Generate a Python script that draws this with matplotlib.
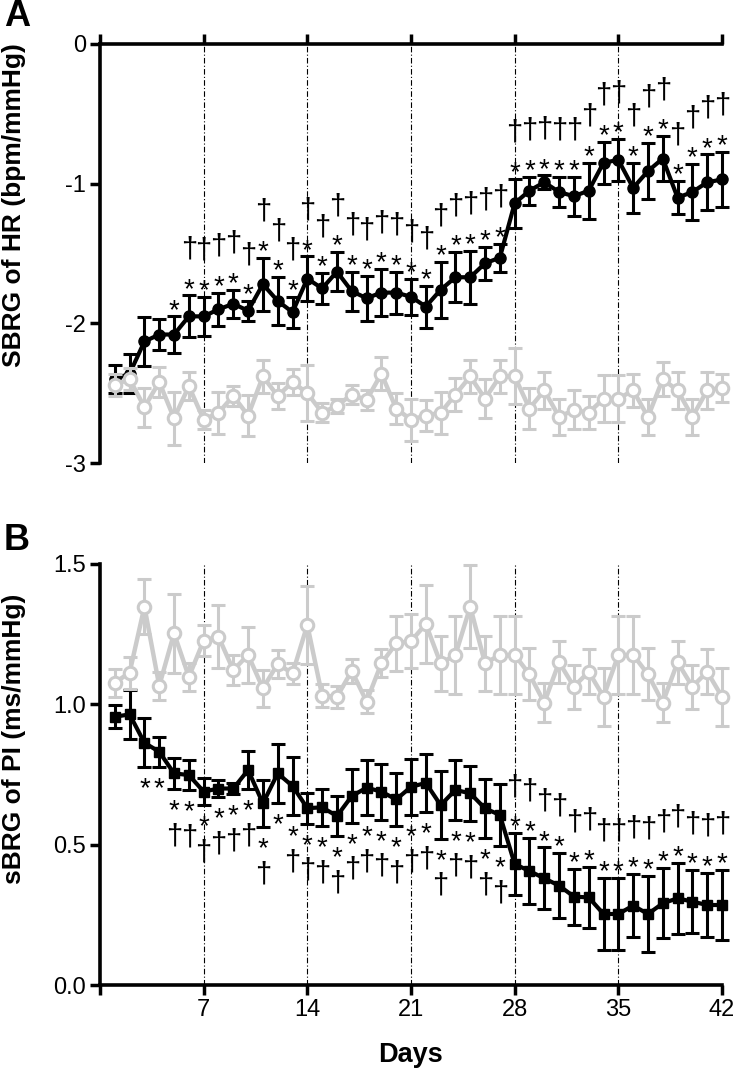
import matplotlib
matplotlib.use("Agg")
import matplotlib.pyplot as plt

plt.rcParams['font.family'] = ['Liberation Sans', 'DejaVu Sans']
plt.rcParams['axes.unicode_minus'] = False

days = list(range(1, 43))

# Panel A: SBRG of HR
hr_black = [-2.40, -2.36, -2.13, -2.08, -2.08, -1.95, -1.95, -1.90, -1.86, -1.91,
            -1.72, -1.84, -1.92, -1.68, -1.75, -1.63, -1.77, -1.82, -1.78, -1.78,
            -1.81, -1.88, -1.76, -1.67, -1.67, -1.57, -1.53, -1.14, -1.05, -0.99,
            -1.06, -1.09, -1.05, -0.85, -0.83, -1.03, -0.91, -0.82, -1.10, -1.06,
            -0.99, -0.97]
hr_black_err = [0.10, 0.14, 0.175, 0.11, 0.13, 0.15, 0.14, 0.12, 0.10, 0.07,
                0.19, 0.17, 0.11, 0.16, 0.11, 0.14, 0.14, 0.16, 0.17, 0.15,
                0.13, 0.15, 0.20, 0.18, 0.19, 0.12, 0.10, 0.175, 0.10, 0.05,
                0.11, 0.14, 0.20, 0.15, 0.15, 0.18, 0.20, 0.16, 0.12, 0.20,
                0.20, 0.20]
hr_gray = [-2.44, -2.40, -2.60, -2.42, -2.68, -2.45, -2.69, -2.64, -2.52, -2.66,
           -2.38, -2.52, -2.42, -2.50, -2.64, -2.59, -2.51, -2.55, -2.36, -2.61,
           -2.69, -2.66, -2.64, -2.51, -2.38, -2.54, -2.38, -2.38, -2.61, -2.48,
           -2.67, -2.62, -2.64, -2.54, -2.54, -2.48, -2.67, -2.40, -2.48, -2.67,
           -2.48, -2.46]
hr_gray_err = [0.08, 0.08, 0.14, 0.11, 0.19, 0.10, 0.07, 0.15, 0.07, 0.15,
               0.12, 0.09, 0.09, 0.20, 0.07, 0.05, 0.07, 0.07, 0.12, 0.11,
               0.15, 0.11, 0.15, 0.12, 0.12, 0.14, 0.12, 0.20, 0.15, 0.13,
               0.13, 0.14, 0.12, 0.17, 0.17, 0.12, 0.13, 0.12, 0.13, 0.13,
               0.13, 0.10]

# Panel B: sBRG of PI
pi_black = [0.956, 0.964, 0.863, 0.831, 0.754, 0.748, 0.689, 0.700, 0.700, 0.766,
            0.647, 0.754, 0.709, 0.630, 0.633, 0.602, 0.673, 0.703, 0.689, 0.661,
            0.706, 0.720, 0.641, 0.695, 0.683, 0.629, 0.606, 0.431, 0.406, 0.380,
            0.354, 0.315, 0.312, 0.253, 0.253, 0.283, 0.253, 0.291, 0.309, 0.297,
            0.285, 0.285]
pi_black_err = [0.040, 0.087, 0.087, 0.053, 0.056, 0.053, 0.047, 0.030, 0.020, 0.068,
                0.084, 0.104, 0.104, 0.055, 0.067, 0.072, 0.095, 0.097, 0.100, 0.095,
                0.100, 0.103, 0.120, 0.106, 0.099, 0.105, 0.110, 0.110, 0.119, 0.110,
                0.117, 0.100, 0.110, 0.130, 0.130, 0.113, 0.136, 0.125, 0.126, 0.113,
                0.115, 0.124]
pi_gray = [1.077, 1.113, 1.348, 1.066, 1.253, 1.098, 1.227, 1.241, 1.122, 1.176,
           1.057, 1.144, 1.110, 1.283, 1.031, 1.027, 1.119, 1.010, 1.146, 1.217,
           1.225, 1.286, 1.146, 1.176, 1.348, 1.146, 1.176, 1.176, 1.107, 1.006,
           1.150, 1.063, 1.116, 1.027, 1.176, 1.176, 1.107, 1.006, 1.150, 1.063,
           1.116, 1.027]
pi_gray_err = [0.050, 0.057, 0.097, 0.050, 0.140, 0.050, 0.056, 0.113, 0.053, 0.100,
               0.065, 0.050, 0.036, 0.139, 0.040, 0.040, 0.043, 0.040, 0.050, 0.098,
               0.097, 0.140, 0.097, 0.140, 0.148, 0.097, 0.140, 0.140, 0.092, 0.070,
               0.075, 0.078, 0.080, 0.104, 0.140, 0.140, 0.092, 0.070, 0.077, 0.078,
               0.080, 0.103]

# significance marks (days)
hr_star_days = list(range(5, 43))
hr_dagger_days = list(range(6, 43))
pi_star_days = list(range(3, 43))
pi_dagger_days = [d for d in range(5, 43) if d != 12]
pi_flip_day = 28  # from here on marks sit above the points

week_ticks = [0, 7, 14, 21, 28, 35, 42]
week_lines = [7, 14, 21, 28, 35]

GRAY = '#cbcbcb'
W, H = 733, 1072


def px(x, y):
    return x / W, 1 - y / H


def draw_series(ax, mean, err, marker, black):
    if black:
        ax.errorbar(days, mean, yerr=err, fmt='-' + marker, color='black',
                    lw=3.0, ms=8 if marker == 'o' else 7.5, elinewidth=2.2,
                    capsize=5, capthick=2.2, clip_on=False, zorder=3)
    else:
        ax.errorbar(days, mean, yerr=err, fmt='-o', color=GRAY, mfc='white',
                    mec=GRAY, mew=2.2, lw=3.2, ms=9, elinewidth=2.2,
                    capsize=5, capthick=2.2, clip_on=False, zorder=4)


def marks(ax, mean, err, star_days, dagger_days, flip_day=None):
    for d in days:
        m, e = mean[d - 1], err[d - 1]
        up = flip_day is None or d >= flip_day
        sgn = 1 if up else -1
        base = (d, m + sgn * e)
        if d in star_days:
            ax.annotate('*', xy=base, xytext=(0, 4 if up else -16),
                        textcoords='offset points', ha='center', va='center',
                        fontsize=20, annotation_clip=False)
        if d in dagger_days:
            ax.annotate('\u2020', xy=base, xytext=(0, 33 if up else -34),
                        textcoords='offset points', ha='center', va='center',
                        fontsize=21, annotation_clip=False)


fig = plt.figure(figsize=(W / 100, H / 100), dpi=100)

axA = fig.add_axes([100 / W, 1 - 463 / H, 622 / W, 419 / H])
axB = fig.add_axes([100 / W, 1 - 985 / H, 622 / W, 421 / H])

for ax in (axA, axB):
    for d in week_lines:
        ax.axvline(d, color='black', lw=0.8, ls=(0, (5, 2, 1, 2)), zorder=1)
    ax.set_xlim(0, 42)
    ax.set_xticks(week_ticks)
    ax.tick_params(width=2.5, length=7, labelsize=17, pad=3)
    ax.spines['right'].set_visible(False)
    for s in ax.spines.values():
        s.set_linewidth(2.6)

# panel A
draw_series(axA, hr_black, hr_black_err, 'o', True)
draw_series(axA, hr_gray, hr_gray_err, 'o', False)
marks(axA, hr_black, hr_black_err, hr_star_days, hr_dagger_days)
axA.set_ylim(-3, 0)
axA.set_yticks([0, -1, -2, -3])
axA.set_yticklabels(['0', '-1', '-2', '-3'])
axA.spines['bottom'].set_visible(False)
axA.xaxis.set_ticks_position('top')
axA.tick_params(axis='x', labeltop=False, labelbottom=False)

# panel B
draw_series(axB, pi_black, pi_black_err, 's', True)
draw_series(axB, pi_gray, pi_gray_err, 'o', False)
marks(axB, pi_black, pi_black_err, pi_star_days, pi_dagger_days, pi_flip_day)
axB.set_ylim(0, 1.5)
axB.set_yticks([0, 0.5, 1.0, 1.5])
axB.set_yticklabels(['0.0', '0.5', '1.0', '1.5'])
axB.set_xticklabels([''] + [str(t) for t in week_ticks[1:]])
axB.spines['top'].set_visible(False)

fig.text(*px(17, 17), 'A', fontsize=26, fontweight='bold', ha='center', va='center')
fig.text(*px(17, 541), 'B', fontsize=26, fontweight='bold', ha='center', va='center')
fig.text(*px(14, 205), 'SBRG of HR (bpm/mmHg)', fontsize=19, fontweight='bold',
         rotation=90, ha='center', va='center')
fig.text(*px(14, 739), 'sBRG of PI (ms/mmHg)', fontsize=19, fontweight='bold',
         rotation=90, ha='center', va='center')
fig.text(*px(411, 1055), 'Days', fontsize=19.5, fontweight='bold', ha='center', va='center')

fig.savefig('out.png', dpi=100)
